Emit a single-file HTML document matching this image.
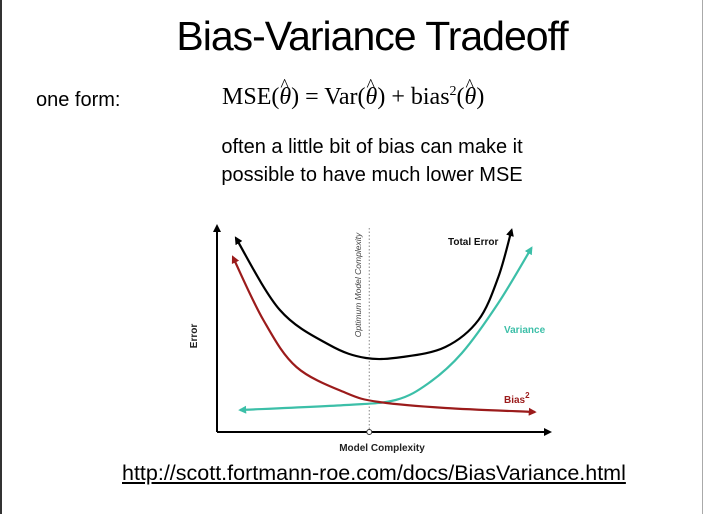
<!DOCTYPE html>
<html><head><meta charset="utf-8"><style>
html,body{margin:0;padding:0;}
body{width:704px;height:514px;background:#fff;position:relative;overflow:hidden;font-family:"Liberation Sans",sans-serif;color:#000;}
.t{position:absolute;white-space:nowrap;}
.th{position:relative;display:inline-block;font-style:italic;}
.th::before{content:"^";position:absolute;left:1px;top:-9px;font-style:normal;font-size:18px;}
</style></head><body>
<div style="position:absolute;left:0;top:0;width:2px;height:514px;background:#333"></div>
<div style="position:absolute;right:1px;top:0;width:1px;height:514px;background:#aaa"></div>
<div class="t" style="left:0;width:744px;text-align:center;top:13px;font-size:41px;letter-spacing:-1px">Bias-Variance Tradeoff</div>
<div class="t" style="left:36px;top:89px;font-size:20px">one form:</div>
<div class="t" style="left:222px;top:84px;font-size:24px;font-family:'Liberation Serif',serif">MSE(<span class="th">θ</span>) = Var(<span class="th">θ</span>) + bias<sup style="font-size:14px">2</sup>(<span class="th">θ</span>)</div>
<div class="t" style="left:0;width:744px;text-align:center;top:133px;font-size:20px;line-height:28px">often a little bit of bias can make it<br>possible to have much lower MSE</div>
<svg width="704" height="514" style="position:absolute;left:0;top:0">
<defs>
<marker id="ak" markerWidth="8" markerHeight="8" refX="6" refY="4" orient="auto-start-reverse" markerUnits="userSpaceOnUse"><path d="M0,0 L8,4 L0,8 Z" fill="#000"/></marker>
<marker id="ab" markerWidth="8" markerHeight="8" refX="6" refY="4" orient="auto-start-reverse" markerUnits="userSpaceOnUse"><path d="M0,0 L8,4 L0,8 Z" fill="#9b1b1b"/></marker>
<marker id="av" markerWidth="8" markerHeight="8" refX="6" refY="4" orient="auto-start-reverse" markerUnits="userSpaceOnUse"><path d="M0,0 L8,4 L0,8 Z" fill="#3cbfa8"/></marker>
</defs>
<g id="g"></g>
</svg>
<div class="t" style="left:122px;top:461px;font-size:21.5px;text-decoration:underline">http://scott.fortmann-roe.com/docs/BiasVariance.html</div>
<script>
const totalX=[0.57,1.9,3.4,4.5,5.6,6.9,7.9,8.5,8.9];
const totalY=[9.7,6.1,4.35,3.7,3.75,4.25,5.6,7.75,10.1];
const biasX=[0.48,1.4,2.4,3.9,4.9,6.9,9.6];
const biasY=[8.75,5.6,3.25,1.95,1.5,1.2,1.0];
const varX=[0.7,3.9,5.4,6.4,7.4,8.5,9.5];
const varY=[1.1,1.35,1.6,2.45,3.95,6.45,9.2];
const optimumX=[4.6];
const X0=217,X1=548,Y0=432,Y1=232;
const sx=v=>X0+v*(X1-X0)/10, sy=v=>Y0-v*(Y0-Y1)/10;
const NS='http://www.w3.org/2000/svg', g=document.getElementById('g');
function mk(tag,a){const e=document.createElementNS(NS,tag);for(const k in a)e.setAttribute(k,a[k]);g.appendChild(e);return e;}
function path(xs,ys){const p=xs.map((x,i)=>[sx(x),sy(ys[i])]);let d='M'+p[0];for(let i=0;i<p.length-1;i++){const a=p[i-1]||p[i],b=p[i],c=p[i+1],e=p[i+2]||c;d+=' C'+(b[0]+(c[0]-a[0])/6)+','+(b[1]+(c[1]-a[1])/6)+' '+(c[0]-(e[0]-b[0])/6)+','+(c[1]-(e[1]-b[1])/6)+' '+c;}return d;}
let e;
e=mk('line',{x1:X0,y1:Y0,x2:X0,y2:226,stroke:'#000','stroke-width':2,'marker-end':'url(#ak)'});


e=mk('line',{x1:X0,y1:Y0,x2:550,y2:Y0,stroke:'#000','stroke-width':2,'marker-end':'url(#ak)'});


e=mk('line',{x1:sx(optimumX[0]),y1:228,x2:sx(optimumX[0]),y2:Y0,stroke:'#888','stroke-width':1,'stroke-dasharray':'1.5,2'});


e=mk('circle',{cx:sx(optimumX[0]),cy:Y0,r:2.5,fill:'#fff',stroke:'#333','stroke-width':1});


e=mk('path',{d:path(varX,varY),fill:'none',stroke:'#3cbfa8','stroke-width':2.2,'marker-start':'url(#av)','marker-end':'url(#av)'});


e=mk('path',{d:path(biasX,biasY),fill:'none',stroke:'#9b1b1b','stroke-width':2.2,'marker-start':'url(#ab)','marker-end':'url(#ab)'});


e=mk('path',{d:path(totalX,totalY),fill:'none',stroke:'#000','stroke-width':2.2,'marker-start':'url(#ak)','marker-end':'url(#ak)'});


function txt(s,a,name){const t=mk('text',a);t.textContent=s;return t;}
txt('Total Error',{x:448,y:245,'font-size':10,'font-weight':'bold',fill:'#111'},'total-error-label');
txt('Variance',{x:504,y:333,'font-size':10,'font-weight':'bold',fill:'#3cbfa8'},'variance-label');
const bl=txt('Bias',{x:504,y:403,'font-size':10,'font-weight':'bold',fill:'#9b1b1b'},'bias-label');
const sp=document.createElementNS(NS,'tspan');sp.setAttribute('dy','-5');sp.setAttribute('font-size','8');sp.textContent='2';bl.appendChild(sp);
txt('Model Complexity',{x:382,y:451,'font-size':10,'font-weight':'bold','text-anchor':'middle',fill:'#222'},'x-axis-title');
txt('Error',{x:0,y:0,'font-size':10,'font-weight':'bold','text-anchor':'middle',fill:'#222',transform:'translate(197,336) rotate(-90)'},'y-axis-title');
txt('Optimum Model Complexity',{x:0,y:0,'font-size':8.5,'font-style':'italic','text-anchor':'middle',fill:'#444',transform:'translate(361,285) rotate(-90)'},'optimum-label');
</script>
</body></html>
